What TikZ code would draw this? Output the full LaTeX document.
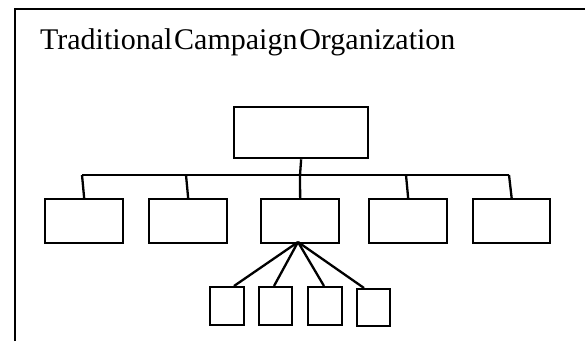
\documentclass[tikz,border=0pt]{standalone}
\usepackage{fontspec}
\setmainfont{Liberation Serif}
\newcommand{\tightwords}{\spaceskip=0.06em\relax}
\begin{document}
\begin{tikzpicture}[x=1pt,y=-1pt,
  line width=2.3pt,
  box/.style={draw=black,line width=2.3pt,minimum width=#1,inner sep=0pt,anchor=north west},
  conn/.style={draw=black,line width=2.3pt},
  frame/.style={draw=black,line width=2.3pt},
  title/.style={inner sep=0pt,anchor=base west,font=\fontsize{30}{36}\selectfont}]
\useasboundingbox (0,0) rectangle (585,341);
% frame (partially visible)
\coordinate (fbl) at (15,341);
\coordinate (ftl) at (15,9);
\coordinate (ftr) at (585,9);
\draw[frame] (fbl) -- (ftl) -- (ftr);
% title
\node[title] (t) at (39,49) {\tightwords Traditional Campaign Organization};
% top box
\node[box=134pt,minimum height=51pt] (top) at (233,106) {};
% middle boxes
\node[box=78pt,minimum height=44pt] (m1) at (44,198) {};
\node[box=78pt,minimum height=44pt] (m2) at (148,198) {};
\node[box=78pt,minimum height=44pt] (m3) at (260,198) {};
\node[box=78pt,minimum height=44pt] (m4) at (368,198) {};
\node[box=77pt,minimum height=44pt] (m5) at (472,198) {};
% small boxes
\node[box=34pt,minimum height=38pt] (s1) at (209,286) {};
\node[box=33pt,minimum height=38pt] (s2) at (258,286) {};
\node[box=34pt,minimum height=38pt] (s3) at (307,286) {};
\node[box=33pt,minimum height=37pt] (s4) at (356,288) {};
% bus
\coordinate (b1) at (82,175);
\coordinate (b2) at (186,175);
\coordinate (b3) at (300,175);
\coordinate (b4) at (406,175);
\coordinate (b5) at (509,175);
\draw[conn] (b1) -- (b5);
\draw[conn] (top.south) -- (b3);
\draw[conn] (b1) -- (m1.north);
\draw[conn] (b2) -- (m2.north);
\draw[conn] (b3) -- (m3.north);
\draw[conn] (b4) -- (m4.north);
\draw[conn] (b5) -- (m5.north);
% fan
\coordinate (f) at (298,242);
\coordinate (e1) at (234,286);
\coordinate (e2) at (274,286);
\coordinate (e3) at (324,286);
\coordinate (e4) at (364,288);
\draw[conn] (f) -- (e1);
\draw[conn] (f) -- (e2);
\draw[conn] (f) -- (e3);
\draw[conn] (f) -- (e4);
\end{tikzpicture}
\end{document}
